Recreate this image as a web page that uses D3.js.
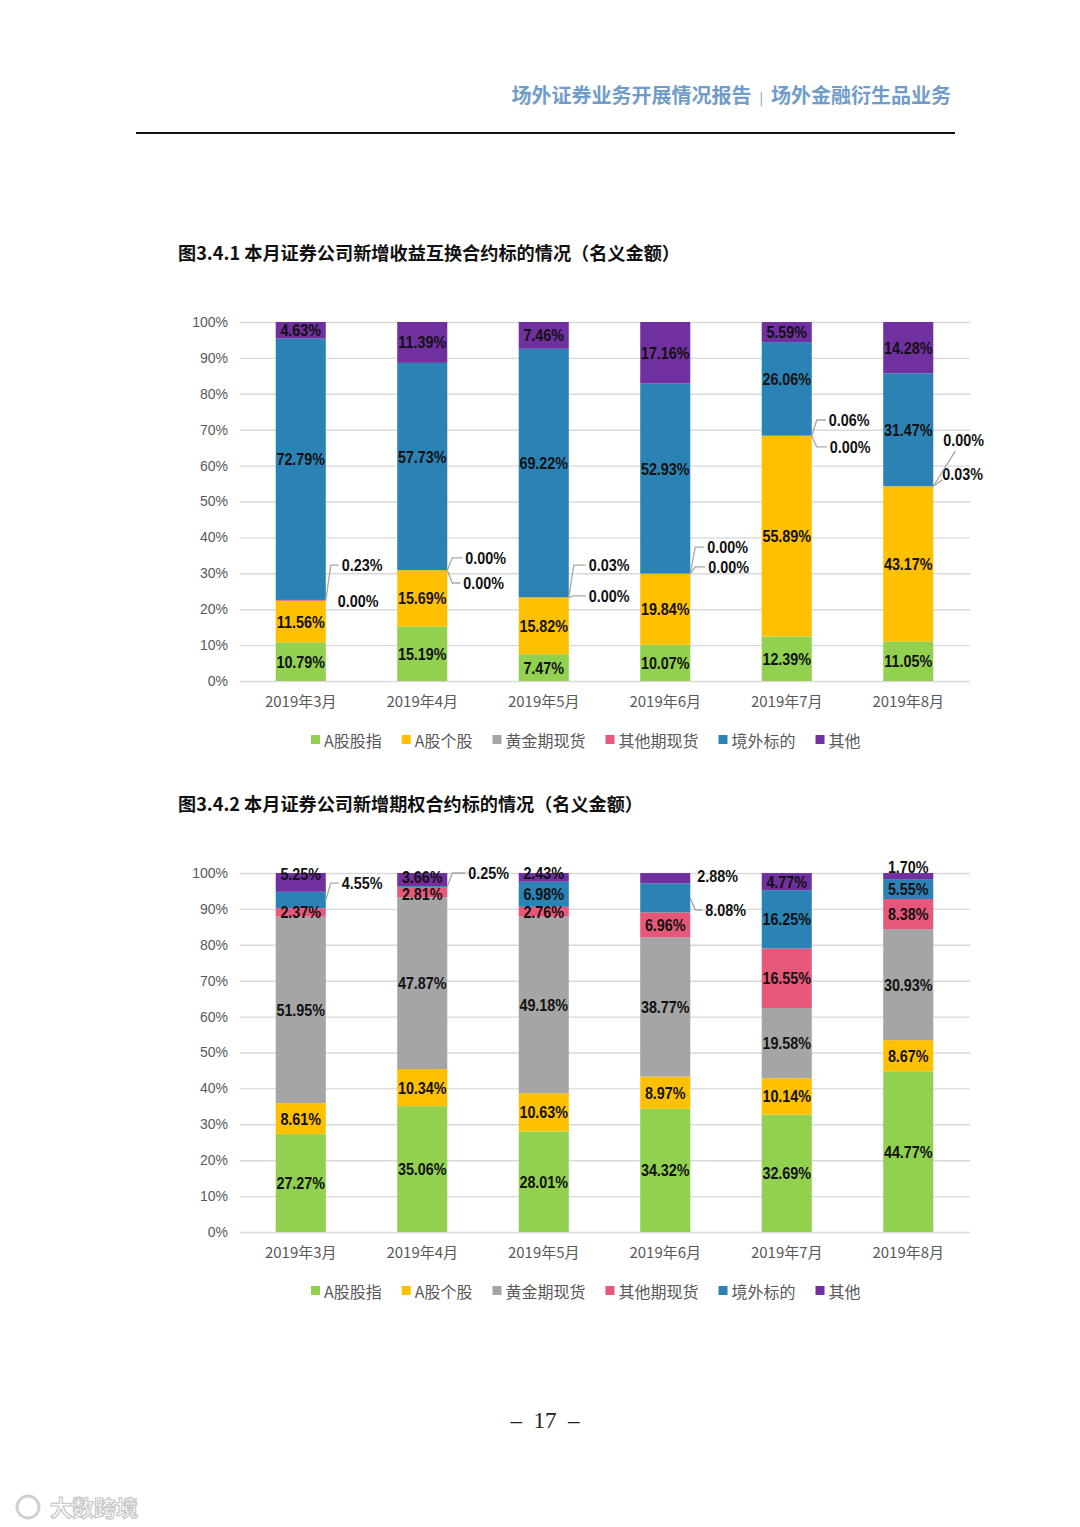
<!DOCTYPE html>
<html><head><meta charset="utf-8">
<script src="https://cdn.jsdelivr.net/npm/d3@7"></script>
<style>body{margin:0;background:#fff} svg{display:block}</style>
</head><body>
<svg id="page" width="1080" height="1527"></svg>
<script>
// ---------- data ----------
const months = ["2019年3月","2019年4月","2019年5月","2019年6月","2019年7月","2019年8月"];
const seriesNames = ["A股股指","A股个股","黄金期现货","其他期现货","境外标的","其他"];
const yTicks = [0,10,20,30,40,50,60,70,80,90,100];

// 图3.4.1 收益互换
const swapIndex      = [10.79,15.19,7.47,10.07,12.39,11.05];
const swapStock      = [11.56,15.69,15.82,19.84,55.89,43.17];
const swapGold       = [0.00,0.00,0.00,0.00,0.00,0.03];
const swapOtherFut   = [0.23,0.00,0.03,0.00,0.06,0.00];
const swapOverseas   = [72.79,57.73,69.22,52.93,26.06,31.47];
const swapOther      = [4.63,11.39,7.46,17.16,5.59,14.28];

// 图3.4.2 期权
const optIndex       = [27.27,35.06,28.01,34.32,32.69,44.77];
const optStock       = [8.61,10.34,10.63,8.97,10.14,8.67];
const optGold        = [51.95,47.87,49.18,38.77,19.58,30.93];
const optOtherFut    = [2.37,2.81,2.76,6.96,16.55,8.38];
const optOverseas    = [4.55,0.25,6.98,8.08,16.25,5.55];
const optOther       = [5.25,3.66,2.43,2.88,4.77,1.70];

// ---------- styles ----------
const colors = ["#92d050","#ffc000","#a5a5a5","#e7577a","#2a83b4","#7030a0"];
const labelFont = "'Liberation Sans',Arial,sans-serif";
const cjk = "'Noto Sans CJK SC','Noto Sans',sans-serif";

function buildRows(arrs){
  return months.map((m,i)=>{
    const r={month:m};
    seriesNames.forEach((s,k)=>r[s]=arrs[k][i]);
    return r;
  });
}

const svg = d3.select("#page");

// header
const hdr = svg.append("text").attr("x",951).attr("y",103).attr("text-anchor","end")
  .attr("font-family",cjk).attr("font-weight","bold").attr("font-size",20).attr("fill","#6f9cc8");
hdr.append("tspan").text("场外证券业务开展情况报告");
hdr.append("tspan").attr("dx",8).attr("font-size",13).attr("font-weight","normal").text("|");
hdr.append("tspan").attr("dx",8).text("场外金融衍生品业务");
svg.append("line").attr("x1",136).attr("x2",955).attr("y1",133).attr("y2",133)
  .attr("stroke","#111").attr("stroke-width",2);

function title(t,y,len){
  svg.append("text").attr("x",178).attr("y",y).attr("font-family",cjk).attr("font-size",18)
    .attr("font-weight","bold").attr("fill","#111").attr("textLength",len).attr("lengthAdjust","spacingAndGlyphs").text(t);
}
title("图3.4.1 本月证券公司新增收益互换合约标的情况（名义金额）",260,502);
title("图3.4.2 本月证券公司新增期权合约标的情况（名义金额）",811,465);

function condense(sel){
  const n = sel.node();
  sel.attr("textLength", n.getComputedTextLength()*0.87).attr("lengthAdjust","spacingAndGlyphs");
  return sel;
}

function drawChart(cfg){
  const g = svg.append("g");
  const x = d3.scaleBand().domain(months).range([240,969]).paddingInner(0.588).paddingOuter(0.294);
  const y = d3.scaleLinear().domain([0,100]).range([cfg.bottom,cfg.top]);

  const ya = g.append("g").attr("transform","translate(240,0)")
    .call(d3.axisLeft(y).tickValues(yTicks).tickSize(-730).tickPadding(12).tickFormat(d=>d+"%"));
  ya.select(".domain").remove();
  ya.selectAll("line").attr("stroke","#d9d9d9").attr("stroke-width",1.4);
  ya.selectAll("text").attr("font-family","'Liberation Sans',Arial,sans-serif").attr("font-size",14).attr("fill","#595959");

  const xa = g.append("g").attr("transform",`translate(0,${cfg.bottom})`)
    .call(d3.axisBottom(x).tickSize(0).tickPadding(15));
  xa.select(".domain").remove();
  xa.selectAll("text").attr("font-family",cjk).attr("font-size",15).attr("fill","#595959");

  const rows = buildRows(cfg.arrays);
  const stack = d3.stack().keys(seriesNames)(rows);

  stack.forEach((ser,k)=>{
    g.append("g").attr("fill",colors[k]).selectAll("rect").data(ser).join("rect")
      .attr("x",d=>x(d.data.month)).attr("width",x.bandwidth())
      .attr("y",d=>y(d[1])).attr("height",d=>y(d[0])-y(d[1]));
  });

  const lab = g.append("g").attr("font-family",labelFont).attr("font-weight","bold")
    .attr("font-size",16.5).attr("fill","#111");
  const isCallout=(k,i)=>cfg.callouts.some(c=>c.s===k&&c.m===i);
  stack.forEach((ser,k)=>{
    ser.forEach((d,i)=>{
      if(isCallout(k,i)) return;
      const off = (cfg.labelDy.find(o=>o.s===k&&o.m===i)||{dy:0}).dy;
      condense(lab.append("text").attr("x",x(d.data.month)+x.bandwidth()/2)
        .attr("y",y((d[0]+d[1])/2)+off).attr("text-anchor","middle")
        .attr("dominant-baseline","central").text(cfg.arrays[k][i].toFixed(2)+"%"));
    });
  });

  const lead = g.append("g").attr("fill","none").attr("stroke","#a6a6a6").attr("stroke-width",1.3);
  cfg.callouts.forEach(c=>{
    const d = stack[c.s][c.m];
    const right = x(months[c.m])+x.bandwidth();
    const ya0 = y((d[0]+d[1])/2);
    const yl = y(c.ty);
    if(c.align==="middle"){
      condense(lab.append("text").attr("x",x(months[c.m])+x.bandwidth()/2).attr("y",yl)
        .attr("text-anchor","middle").attr("dominant-baseline","central").text(cfg.arrays[c.s][c.m].toFixed(2)+"%"));
      return;
    }
    const lx = right + c.tx;
    condense(lab.append("text").attr("x",lx).attr("y",yl).attr("dominant-baseline","central")
      .text(cfg.arrays[c.s][c.m].toFixed(2)+"%"));
    if(c.leader==="elbow"){
      lead.append("path").attr("d",`M${right},${ya0}L${right+5},${yl}L${lx-3},${yl}`);
    } else if(c.leader==="diag"){
      lead.append("path").attr("d",`M${right},${ya0}L${lx+c.end[0]},${yl+c.end[1]}`);
    }
  });

  // legend
  const lg = g.append("g").attr("transform",`translate(0,${cfg.legendY})`);
  let lx = 311;
  seriesNames.forEach((s,k)=>{
    lg.append("rect").attr("x",lx).attr("y",-5).attr("width",9).attr("height",9).attr("fill",colors[k]);
    const t = lg.append("text").attr("x",lx+13).attr("y",0).attr("dominant-baseline","central")
      .attr("font-family",cjk).attr("font-size",16).attr("fill","#595959").text(s);
    lx += 13 + t.node().getComputedTextLength() + 20;
  });
}

drawChart({
  top:322, bottom:681, legendY:740,
  arrays:[swapIndex,swapStock,swapGold,swapOtherFut,swapOverseas,swapOther],
  labelDy:[{s:4,m:0,dy:-10},{s:4,m:1,dy:-10},{s:4,m:2,dy:-10},{s:4,m:3,dy:-10},{s:4,m:4,dy:-10}],
  callouts:[
    {s:3,m:0,tx:16,ty:32.3,leader:"elbow"},
    {s:2,m:0,tx:12,ty:22.3,leader:"none"},
    {s:3,m:1,tx:18,ty:34.3,leader:"elbow"},
    {s:2,m:1,tx:16,ty:27.3,leader:"elbow"},
    {s:3,m:2,tx:20,ty:32.3,leader:"elbow"},
    {s:2,m:2,tx:20,ty:23.7,leader:"elbow"},
    {s:3,m:3,tx:17,ty:37.3,leader:"elbow"},
    {s:2,m:3,tx:18,ty:31.8,leader:"elbow"},
    {s:3,m:4,tx:17,ty:72.7,leader:"elbow"},
    {s:2,m:4,tx:18,ty:65.2,leader:"elbow"},
    {s:3,m:5,tx:10,ty:67.1,leader:"diag",end:[12,11]},
    {s:2,m:5,tx:9,ty:57.7,leader:"diag",end:[0,6]}
  ]
});

drawChart({
  top:873, bottom:1232, legendY:1291,
  arrays:[optIndex,optStock,optGold,optOtherFut,optOverseas,optOther],
  labelDy:[{s:5,m:0,dy:-8},{s:5,m:2,dy:-4},{s:5,m:1,dy:-3},{s:3,m:1,dy:2}],
  callouts:[
    {s:4,m:0,tx:16,ty:97.2,leader:"elbow"},
    {s:4,m:1,tx:21,ty:100.0,leader:"elbow"},
    {s:5,m:3,tx:7,ty:99.2,leader:"none"},
    {s:4,m:3,tx:15,ty:89.7,leader:"elbow"},
    {s:5,m:5,ty:101.7,align:"middle"}
  ]
});

// page number
svg.append("text").attr("x",545).attr("y",1428).attr("text-anchor","middle")
  .attr("font-family","'Liberation Serif','DejaVu Serif',serif").attr("font-size",23).attr("fill","#222")
  .attr("xml:space","preserve").text("–  17  –");

// watermark
svg.append("text").attr("x",50).attr("y",1516).attr("font-family",cjk).attr("font-size",22)
  .attr("font-weight","bold").attr("fill","#fff").attr("stroke","#c8c8c8").attr("stroke-width",1.2).text("大数跨境");
svg.append("circle").attr("cx",28).attr("cy",1507).attr("r",11).attr("fill","none").attr("stroke","#d0d0d0").attr("stroke-width",3);
</script>
</body></html>
